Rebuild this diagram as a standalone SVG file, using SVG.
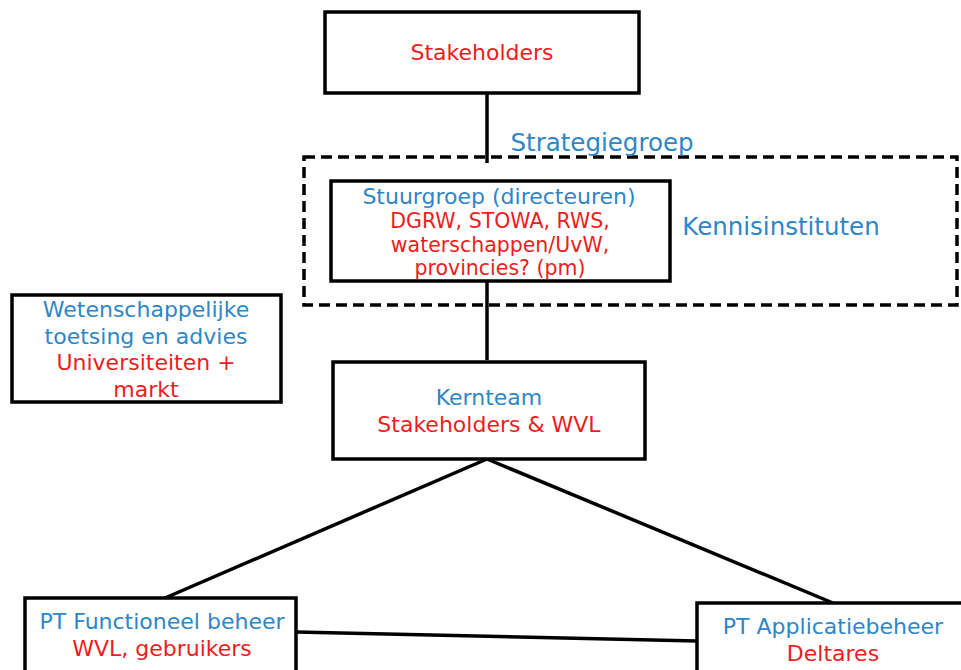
<svg xmlns="http://www.w3.org/2000/svg" width="961" height="670" viewBox="0 0 961 670">
<style>
.box{fill:#fff;stroke:#000;stroke-width:3.5}
.t{font-family:"DejaVu Sans",Verdana,sans-serif;font-size:22px;text-anchor:middle;dominant-baseline:central}
.s{font-size:20.5px}
.l{font-size:24.5px}
.b{fill:#2f86c6}
.r{fill:#ee1c1c}
.c{stroke:#000;stroke-width:3.5;fill:none}
</style>
<rect width="961" height="670" fill="#fff"/>
<g id="connectors">
<line class="c" x1="487" y1="93" x2="487" y2="163"/>
<line class="c" x1="487" y1="281" x2="487" y2="360"/>
<line class="c" x1="487" y1="459" x2="165" y2="598"/>
<line class="c" x1="487" y1="459" x2="833" y2="603"/>
<line class="c" x1="296" y1="632" x2="697" y2="641"/>
</g>
<g id="strategiegroep">
<rect x="304" y="157" width="653" height="148" fill="none" stroke="#000" stroke-width="3.5" stroke-dasharray="11,6"/>
<text class="t b l" x="602" y="142">Strategiegroep</text>
<text class="t b l" x="781" y="226">Kennisinstituten</text>
</g>
<g id="stakeholders">
<rect class="box" x="325" y="12" width="314" height="81"/>
<text class="t r" x="482" y="52">Stakeholders</text>
</g>
<g id="stuurgroep">
<rect class="box" x="331" y="181" width="339" height="100"/>
<text class="t b" x="499" y="196">Stuurgroep (directeuren)</text>
<text class="t r s" x="500" y="221">DGRW, STOWA, RWS,</text>
<text class="t r s" x="500" y="245">waterschappen/UvW,</text>
<text class="t r s" x="500" y="268">provincies? (pm)</text>
</g>
<g id="wetenschappelijke">
<rect class="box" x="12" y="295" width="269" height="107"/>
<text class="t b" x="146" y="309">Wetenschappelijke</text>
<text class="t b" x="146" y="336">toetsing en advies</text>
<text class="t r" x="146" y="362">Universiteiten +</text>
<text class="t r" x="146" y="389">markt</text>
</g>
<g id="kernteam">
<rect class="box" x="333" y="362" width="312" height="97"/>
<text class="t b" x="489" y="397">Kernteam</text>
<text class="t r" x="489" y="424">Stakeholders &amp; WVL</text>
</g>
<g id="pt-functioneel">
<rect class="box" x="25" y="598" width="271" height="80"/>
<text class="t b" x="162" y="621">PT Functioneel beheer</text>
<text class="t r" x="162" y="648">WVL, gebruikers</text>
</g>
<g id="pt-applicatie">
<rect class="box" x="697" y="603" width="280" height="80"/>
<text class="t b" x="833" y="626">PT Applicatiebeheer</text>
<text class="t r" x="833" y="653">Deltares</text>
</g>
</svg>
